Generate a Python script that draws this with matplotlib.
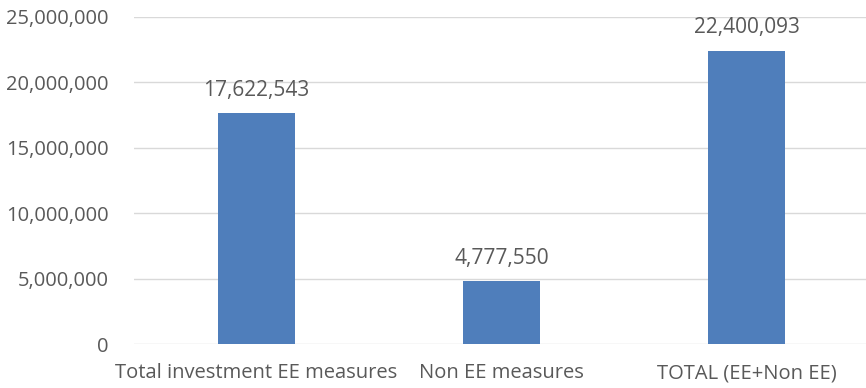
import numpy as np
import matplotlib.pyplot as plt
from matplotlib.ticker import FuncFormatter

categories = ["Total investment EE measures", "Non EE measures", "TOTAL (EE+Non EE)"]
values = [17622543, 4777550, 22400093]
yticks = [0, 5000000, 10000000, 15000000, 20000000, 25000000]

plt.rcParams['font.family'] = ['Open Sans', 'DejaVu Sans']
text_col = '#595959'

fig = plt.figure(figsize=(8.66, 3.88), dpi=100)
ax = fig.add_axes([0.1547, 0.1134, 0.8493, 0.844])

x = np.arange(len(categories))
ax.bar(x, values, width=0.315, color='#4F7EBB', zorder=3)

for xi, v in zip(x, values):
    ax.annotate(f"{v:,}", (xi, v), xytext=(0, 9), textcoords='offset points',
                ha='center', va='bottom', fontsize=15, color=text_col)

ax.set_xlim(-0.5, len(categories) - 0.5)
ax.set_ylim(0, 25000000)
ax.set_yticks(yticks)
ax.yaxis.set_major_formatter(FuncFormatter(lambda v, p: f"{int(v):,}"))
ax.set_xticks(x)
ax.set_xticklabels(categories)
ax.tick_params(axis='both', length=0, labelsize=14.5, colors=text_col)
ax.tick_params(axis='y', pad=18)
ax.tick_params(axis='x', pad=14)
ax.grid(axis='y', color='#D9D9D9', linewidth=1, zorder=0)
for s in ax.spines.values():
    s.set_visible(False)

fig.savefig('out.png', dpi=100)
